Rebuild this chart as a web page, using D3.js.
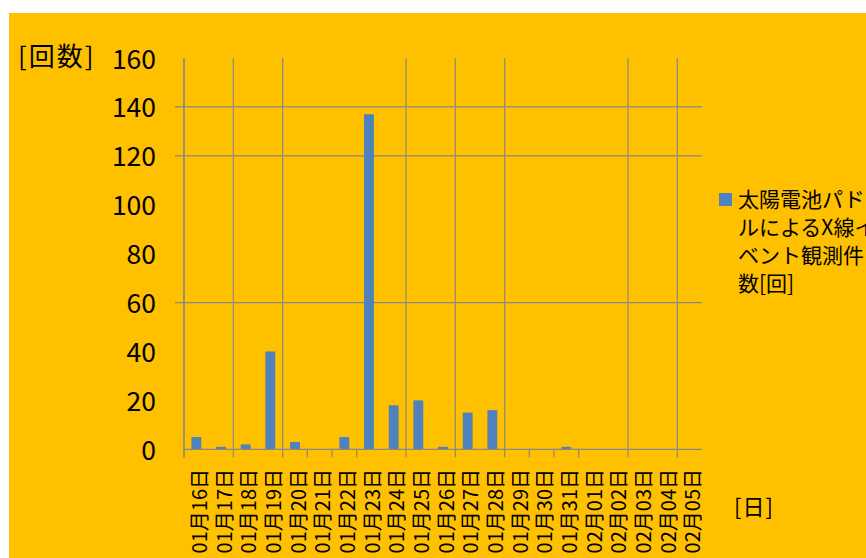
<!DOCTYPE html>
<html>
<head>
<meta charset="utf-8">
<script src="https://cdn.jsdelivr.net/npm/d3@7"></script>
<style>
  body { margin: 0; background: #fff; }
  svg { display: block; }
  text { font-family: "Noto Sans CJK JP", "Liberation Sans", sans-serif; fill: #000; }
</style>
</head>
<body>
<div id="chart"></div>
<script>
const days = ['01月16日','01月17日','01月18日','01月19日','01月20日','01月21日','01月22日',
              '01月23日','01月24日','01月25日','01月26日','01月27日','01月28日','01月29日',
              '01月30日','01月31日','02月01日','02月02日','02月03日','02月04日','02月05日'];
const counts = [5, 1, 2, 40, 3, 0, 5, 137, 18, 20, 1, 15, 16, 0, 0, 1, 0, 0, 0, 0, 0];
const yTicks = [0, 20, 40, 60, 80, 100, 120, 140, 160];
const hGrid = [60, 120, 140];
// category boundaries that show a vertical gridline / a tick mark in the original
const vGridIdx = [0, 2, 4, 9, 11, 13, 18, 20];
const tickIdx = [0, 2, 4, 5, 6, 7, 9, 11, 13, 14, 15, 16, 18, 20];
// legend text wraps and runs past the right edge, as in the original
const legendLines = ['太陽電池パドル', 'ルによるX線イ', 'ベント観測件', '数[回]'];

const width = 866, height = 558;
const plotLeft = 184, plotRight = 702, plotTop = 58, plotBottom = 449.3;
const gridColor = '#888888';

var svg = d3.select('#chart').append('svg')
  .attr('width', width)
  .attr('height', height);

svg.append('rect')
  .attr('x', 9).attr('y', 13)
  .attr('width', width - 9).attr('height', height - 13)
  .attr('fill', '#FFC000');

var xScale = d3.scaleBand()
  .domain(days)
  .range([plotLeft, plotRight])
  .paddingInner(0.6)
  .paddingOuter(0.3);

var yScale = d3.scaleLinear()
  .domain([0, 160])
  .range([plotBottom, plotTop]);

function boundary(k) { return plotLeft + k * xScale.step(); }

// horizontal gridlines
svg.append('g').selectAll('line')
  .data(hGrid).join('line')
  .attr('x1', plotLeft - 9).attr('x2', plotRight)
  .attr('y1', d => yScale(d)).attr('y2', d => yScale(d))
  .attr('stroke', gridColor).attr('stroke-width', 1.2);

// vertical gridlines
svg.append('g').selectAll('line')
  .data(vGridIdx).join('line')
  .attr('x1', d => boundary(d)).attr('x2', d => boundary(d))
  .attr('y1', plotTop).attr('y2', plotBottom)
  .attr('stroke', gridColor).attr('stroke-width', 1.2);

// bars
svg.append('g').selectAll('rect')
  .data(counts).join('rect')
  .attr('x', (d, i) => xScale(days[i]))
  .attr('y', d => yScale(d))
  .attr('width', xScale.bandwidth())
  .attr('height', d => plotBottom - yScale(d))
  .attr('fill', '#4F81BD');

// axes
svg.append('line')
  .attr('x1', plotLeft).attr('x2', plotRight)
  .attr('y1', plotBottom).attr('y2', plotBottom)
  .attr('stroke', gridColor).attr('stroke-width', 1.2);
svg.append('line')
  .attr('x1', plotLeft).attr('x2', plotLeft)
  .attr('y1', plotTop).attr('y2', plotBottom + 8)
  .attr('stroke', gridColor).attr('stroke-width', 1.2);
svg.append('g').selectAll('line')
  .data(tickIdx).join('line')
  .attr('x1', d => boundary(d)).attr('x2', d => boundary(d))
  .attr('y1', plotBottom).attr('y2', plotBottom + 8)
  .attr('stroke', gridColor).attr('stroke-width', 1.2);

// y tick labels
svg.append('g').selectAll('text')
  .data(yTicks).join('text')
  .attr('x', 156)
  .attr('y', d => yScale(d) - 1)
  .attr('text-anchor', 'end')
  .attr('dominant-baseline', 'central')
  .style('font-size', '26.5px')
  .text(d => d);

// x tick labels, rotated
svg.append('g').selectAll('text')
  .data(days).join('text')
  .attr('transform', d => `translate(${xScale(d) + xScale.bandwidth() / 2 + 2},469) rotate(-90)`)
  .attr('text-anchor', 'end')
  .attr('dominant-baseline', 'central')
  .style('font-size', '20px')
  .text(d => d);

// axis titles
svg.append('text')
  .attr('x', 18).attr('y', 54)
  .attr('dominant-baseline', 'central')
  .attr('letter-spacing', 2)
  .style('font-size', '26px')
  .text('[回数]');
svg.append('text')
  .attr('x', 734).attr('y', 505)
  .attr('dominant-baseline', 'central')
  .attr('letter-spacing', 1)
  .style('font-size', '22px')
  .text('[日]');

// legend
svg.append('rect')
  .attr('x', 719).attr('y', 193)
  .attr('width', 13).attr('height', 13)
  .attr('fill', '#4F81BD');
svg.append('g').selectAll('text')
  .data(legendLines).join('text')
  .attr('x', 738)
  .attr('y', (d, i) => 198 + i * 28)
  .attr('dominant-baseline', 'central')
  .style('font-size', '21px')
  .text(d => d);
</script>
</body>
</html>
